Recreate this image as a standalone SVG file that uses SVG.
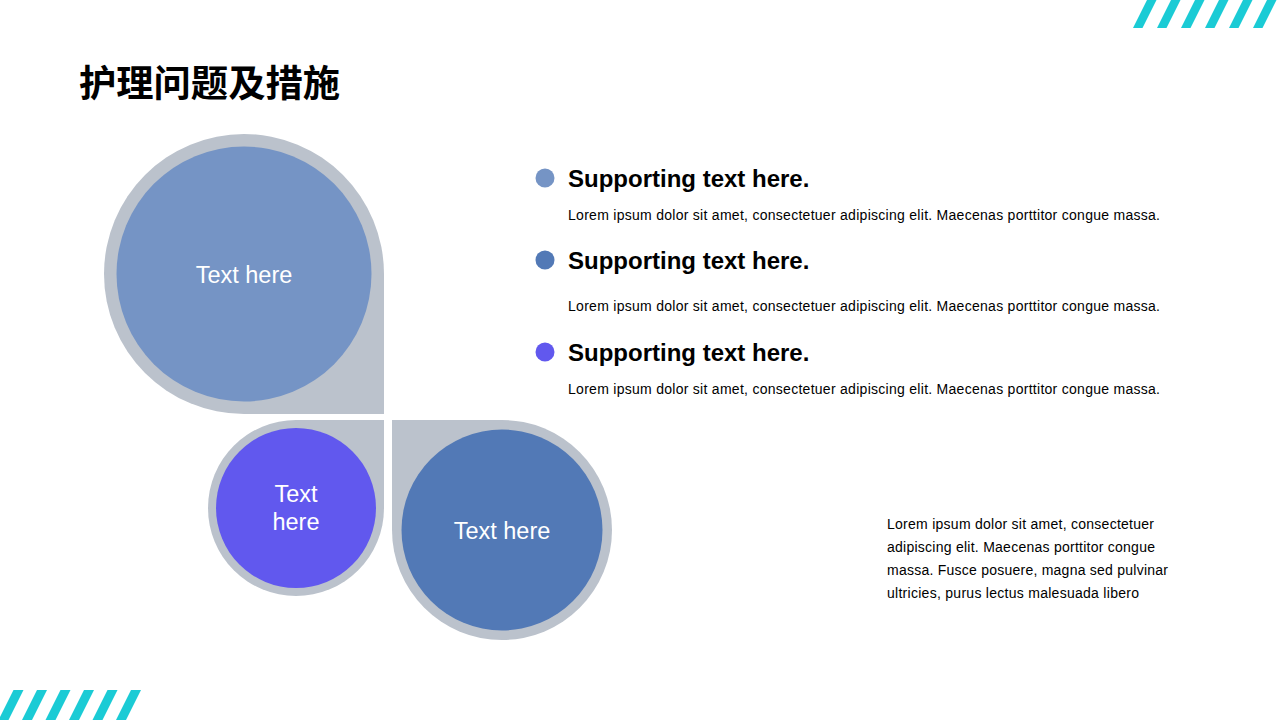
<svg xmlns="http://www.w3.org/2000/svg" width="1280" height="720" viewBox="0 0 1280 720">
<style>
.stripe{fill:#1BCBD5}
.ring{fill:#BBC2CC}
.lbl{font-family:"Liberation Sans",Arial,sans-serif;font-size:23.5px;fill:#FFFFFF;text-anchor:middle}
.head{font-family:"Liberation Sans",Arial,sans-serif;font-size:24px;font-weight:bold;fill:#000000}
.body{font-family:"Liberation Sans",Arial,sans-serif;font-size:14px;fill:#000000}
.title{font-family:"Noto Sans CJK SC","Liberation Sans",sans-serif;font-size:37px;font-weight:bold;fill:#000000}
</style>
<rect width="1280" height="720" fill="#FFFFFF"/>
<g id="stripes-top">
<polygon class="stripe" points="1133,28 1142.5,28 1156.5,0 1147,0"/>
<polygon class="stripe" points="1157,28 1166.5,28 1180.5,0 1171,0"/>
<polygon class="stripe" points="1181,28 1190.5,28 1204.5,0 1195,0"/>
<polygon class="stripe" points="1205,28 1214.5,28 1228.5,0 1219,0"/>
<polygon class="stripe" points="1229,28 1238.5,28 1252.5,0 1243,0"/>
<polygon class="stripe" points="1253,28 1262.5,28 1276.5,0 1267,0"/>
</g>
<g id="stripes-bottom">
<polygon class="stripe" points="-1.5,720 8.5,720 23.5,690 13.5,690"/>
<polygon class="stripe" points="22,720 32,720 47,690 37,690"/>
<polygon class="stripe" points="45.5,720 55.5,720 70.5,690 60.5,690"/>
<polygon class="stripe" points="69,720 79,720 94,690 84,690"/>
<polygon class="stripe" points="92.5,720 102.5,720 117.5,690 107.5,690"/>
<polygon class="stripe" points="116,720 126,720 141,690 131,690"/>
</g>
<text class="title" x="79" y="97" textLength="261" lengthAdjust="spacingAndGlyphs">护理问题及措施</text>
<g id="node-big">
<path class="ring" d="M384 274 L384 414 L244 414 A140 140 0 1 1 384 274 Z"/>
<circle cx="244" cy="274" r="127.5" fill="#7594C5"/>
<text class="lbl" x="244" y="283">Text here</text>
</g>
<g id="node-small">
<path class="ring" d="M296 420 L384 420 L384 508 A88 88 0 1 1 296 420 Z"/>
<circle cx="296" cy="508" r="80" fill="#6158EE"/>
<text class="lbl" x="296" y="502">Text</text>
<text class="lbl" x="296" y="530">here</text>
</g>
<g id="node-right">
<path class="ring" d="M392 530 L392 420 L502 420 A110 110 0 1 1 392 530 Z"/>
<circle cx="502" cy="530" r="100.5" fill="#5279B6"/>
<text class="lbl" x="502" y="539">Text here</text>
</g>
<g id="connectors"></g>
<g id="item-1">
<circle cx="545" cy="178" r="9.5" fill="#7594C5"/>
<text class="head" x="568" y="187">Supporting text here.</text>
<text class="body" x="568" y="220" textLength="592" lengthAdjust="spacing">Lorem ipsum dolor sit amet, consectetuer adipiscing elit. Maecenas porttitor congue massa.</text>
</g>
<g id="item-2">
<circle cx="545" cy="260" r="9.5" fill="#5279B6"/>
<text class="head" x="568" y="269">Supporting text here.</text>
<text class="body" x="568" y="311" textLength="592" lengthAdjust="spacing">Lorem ipsum dolor sit amet, consectetuer adipiscing elit. Maecenas porttitor congue massa.</text>
</g>
<g id="item-3">
<circle cx="545" cy="352" r="9.5" fill="#6158EE"/>
<text class="head" x="568" y="361">Supporting text here.</text>
<text class="body" x="568" y="394" textLength="592" lengthAdjust="spacing">Lorem ipsum dolor sit amet, consectetuer adipiscing elit. Maecenas porttitor congue massa.</text>
</g>
<g id="paragraph">
<text class="body" x="887" y="529" textLength="267" lengthAdjust="spacing">Lorem ipsum dolor sit amet, consectetuer</text>
<text class="body" x="887" y="552" textLength="268" lengthAdjust="spacing">adipiscing elit. Maecenas porttitor congue</text>
<text class="body" x="887" y="575" textLength="281" lengthAdjust="spacing">massa. Fusce posuere, magna sed pulvinar</text>
<text class="body" x="887" y="598" textLength="252" lengthAdjust="spacing">ultricies, purus lectus malesuada libero</text>
</g>
</svg>
